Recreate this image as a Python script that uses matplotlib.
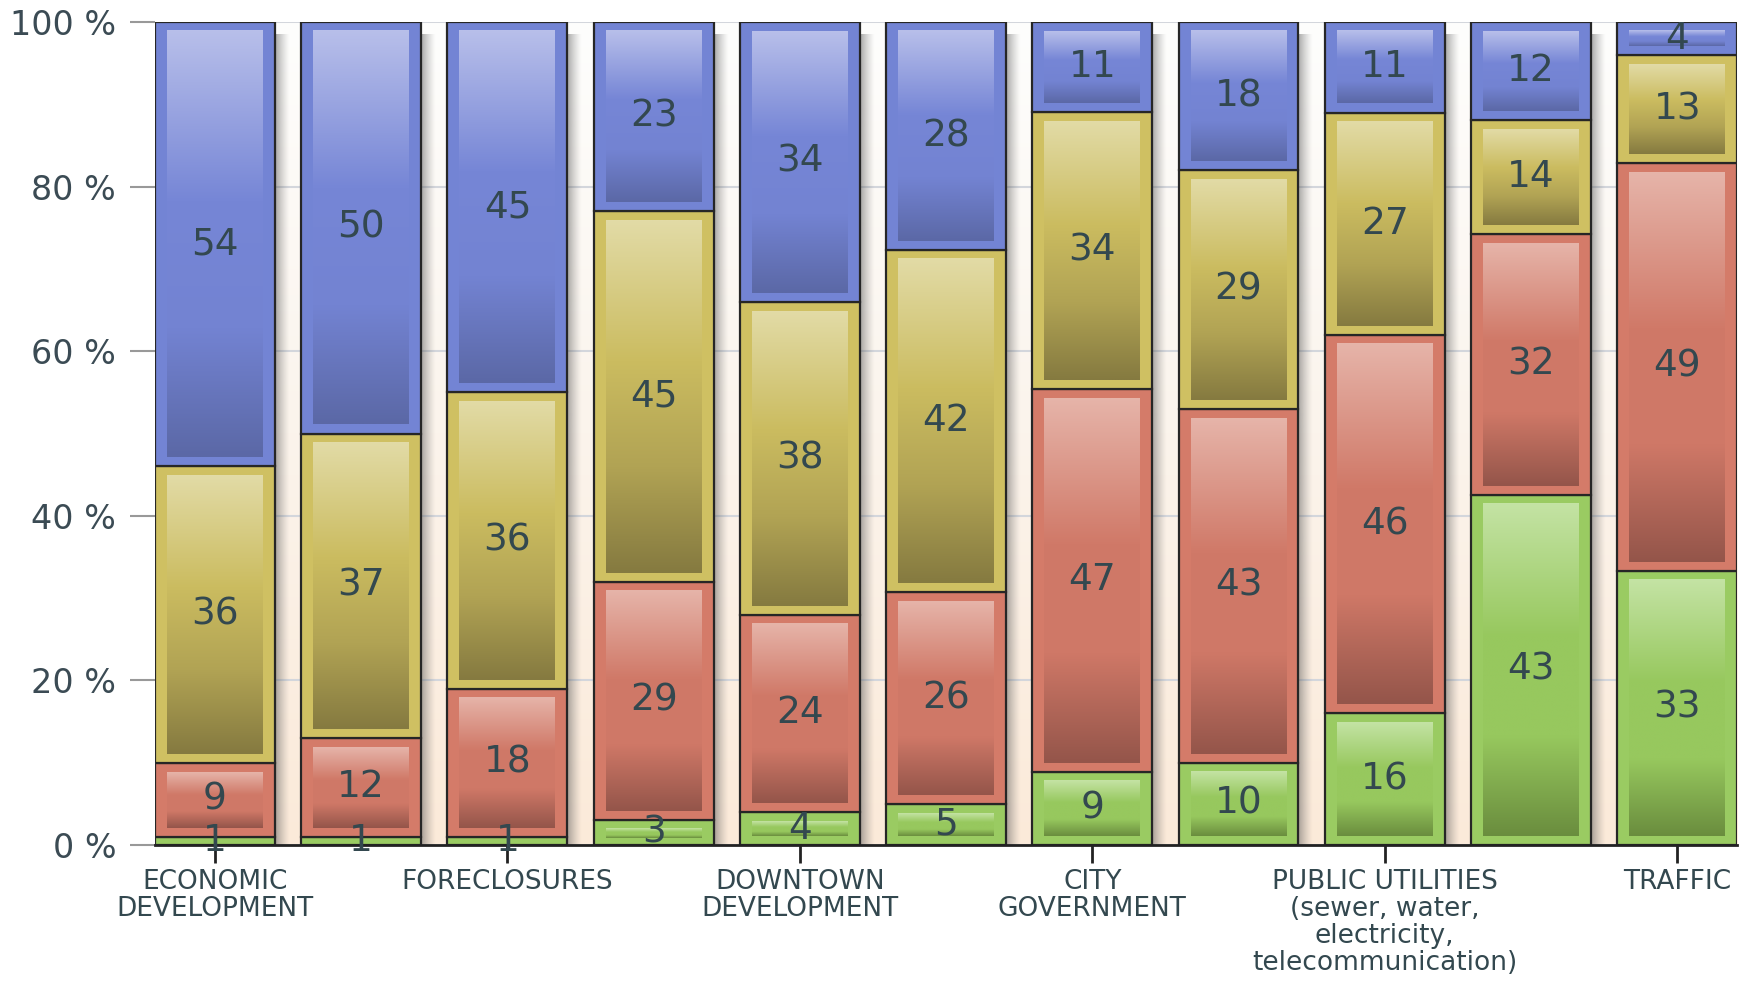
"""100% stacked bar chart of issue ratings, drawn with glossy gradient segments."""

import numpy as np
import matplotlib
matplotlib.use("Agg")
import matplotlib.pyplot as plt
from matplotlib.colors import LinearSegmentedColormap, to_rgb
from matplotlib.patches import Rectangle

# only every other bar carries a label in the source chart
categories = [
    "ECONOMIC\nDEVELOPMENT", "", "FORECLOSURES", "", "DOWNTOWN\nDEVELOPMENT", "",
    "CITY\nGOVERNMENT", "",
    "PUBLIC UTILITIES\n(sewer, water,\nelectricity,\ntelecommunication)", "", "TRAFFIC",
]
green = [1, 1, 1, 3, 4, 5, 9, 10, 16, 43, 33]
red = [9, 12, 18, 29, 24, 26, 47, 43, 46, 32, 49]
yellow = [36, 37, 36, 45, 38, 42, 34, 29, 27, 14, 13]
blue = [54, 50, 45, 23, 34, 28, 11, 18, 11, 12, 4]
y_ticks = [0, 20, 40, 60, 80, 100]

# (frame colour, gradient light -> base -> dark)
STYLES = [
    ("#9acb62", ["#c4e3a4", "#97c85e", "#97c85e", "#6a8d3e"]),
    ("#d47b69", ["#e6b4a9", "#d07968", "#cf7867", "#94554a"]),
    ("#cfc062", ["#e2dba6", "#cbbc60", "#b1a354", "#857a40"]),
    ("#7384d4", ["#b8bfea", "#7686d6", "#7383d2", "#5b68a6"]),
]
TEXT = "#33484f"
W = 0.82
DX = 0.082      # horizontal inset of the glossy inner panel (data units)
DY = 1.1        # vertical inset (percent units)
XLIM = (-0.41, 10.41)


def main() -> None:
    series = np.array([green, red, yellow, blue], dtype=float)
    pct = series / series.sum(axis=0) * 100.0

    fig = plt.figure(figsize=(17.54, 9.81), dpi=100)
    ax = fig.add_axes([0.0884, 0.1386, 0.902, 0.839])

    # plot background: white at the top fading to a light peach
    bg = LinearSegmentedColormap.from_list("bg", ["#fefefd", "#fbf4ec", "#fbead9"])
    ax.imshow(np.linspace(0, 1, 256).reshape(-1, 1), extent=[*XLIM, 0, 100],
              origin="upper", cmap=bg, aspect="auto", zorder=0)

    grad = np.linspace(0, 1, 256).reshape(-1, 1)
    shadow = np.zeros((1, 64, 4))
    shadow[..., :3] = to_rgb("#555555")
    shadow[0, :, 3] = np.linspace(0.6, 0.0, 64) ** 1.3

    for i in range(len(categories)):
        x0 = i - W / 2
        ax.imshow(shadow, extent=[x0 + W, x0 + W + 0.1, 0, 98.5],
                  aspect="auto", zorder=2, interpolation="bilinear")
        bottom = 0.0
        for j, (frame, stops) in enumerate(STYLES):
            h = pct[j, i]
            ax.add_patch(Rectangle((x0, bottom), W, h, facecolor=frame,
                                   edgecolor="#262626", lw=1.6, zorder=3))
            if h > 2.0:
                iy = min(DY, h * 0.3)
                cmap = LinearSegmentedColormap.from_list(f"s{j}", list(zip([0, 0.4, 0.7, 1], stops)))
                ax.imshow(grad, extent=[x0 + DX, x0 + W - DX, bottom + iy, bottom + h - iy],
                          origin="upper", cmap=cmap, aspect="auto", zorder=3.5,
                          interpolation="bilinear")
            ax.text(i, bottom + h / 2, f"{int(series[j, i])}", ha="center", va="center",
                    fontsize=27, color=TEXT, zorder=5, clip_on=False)
            bottom += h

    ax.set_xlim(*XLIM)
    ax.set_ylim(0, 100)
    ax.set_axisbelow(True)
    ax.grid(axis="y", color="#d3d6dc", lw=1.5)
    ax.grid(axis="x", visible=False)

    ticks = [i for i, c in enumerate(categories) if c]
    ax.set_xticks(ticks)
    ax.set_xticklabels([categories[i] for i in ticks], fontsize=19, color=TEXT,
                       linespacing=1.05)
    ax.set_yticks(y_ticks)
    ax.set_yticklabels([f"{v} %" for v in y_ticks], fontsize=24, color="#3b4b54")
    ax.tick_params(axis="x", length=13, width=2, color="#222222", pad=4)
    ax.tick_params(axis="y", length=18, width=1.5, color="#999999", pad=10)

    for side in ("left", "right", "top"):
        ax.spines[side].set_visible(False)
    ax.spines["bottom"].set_color("#222222")
    ax.spines["bottom"].set_linewidth(2)
    ax.spines["bottom"].set_zorder(4)

    fig.savefig("out.png", dpi=100)


if __name__ == "__main__":
    main()
